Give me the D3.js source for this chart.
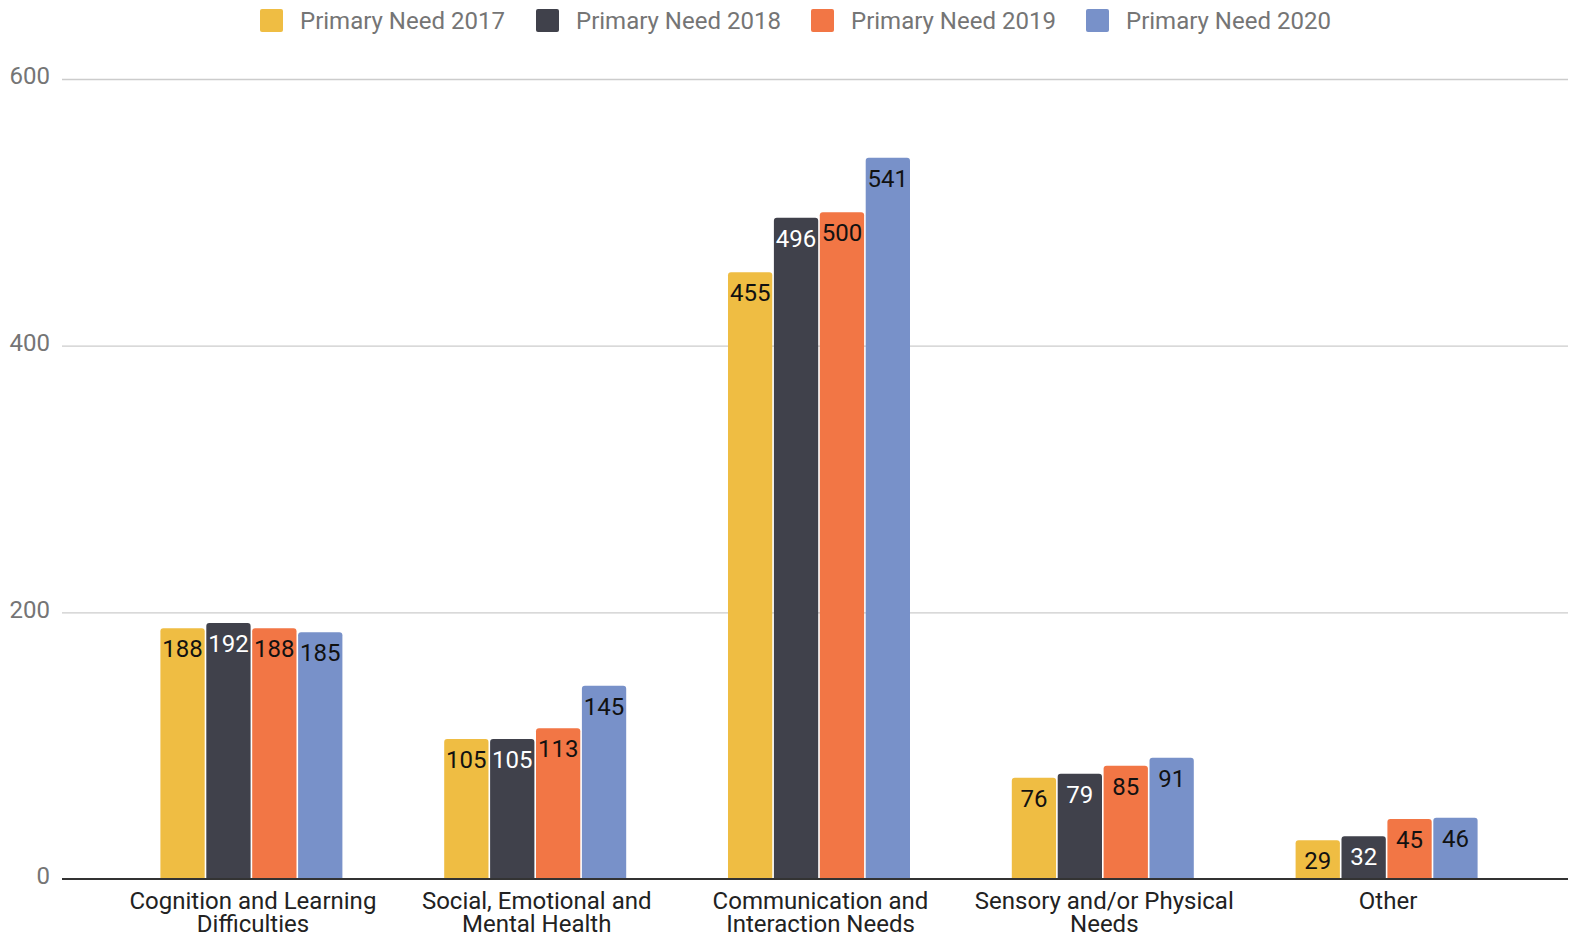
<!DOCTYPE html>
<html><head><meta charset="utf-8">
<script src="https://cdn.jsdelivr.net/npm/d3@7"></script>
<style>body{margin:0;background:#fff;} svg{display:block;font-family:Roboto,"Noto Sans",sans-serif;}</style>
</head><body>
<svg id="c" width="1577" height="946"></svg>
<script>
const categories = [["Cognition and Learning","Difficulties"],["Social, Emotional and","Mental Health"],["Communication and","Interaction Needs"],["Sensory and/or Physical","Needs"],["Other"]];
const seriesNames = ["Primary Need 2017","Primary Need 2018","Primary Need 2019","Primary Need 2020"];
const v2017 = [188,105,455,76,29];
const v2018 = [192,105,496,79,32];
const v2019 = [188,113,500,85,45];
const v2020 = [185,145,541,91,46];
const yTicks = [0,200,400,600];
const colors = ["#EFBD43","#40414B","#F27645","#7891C9"];
const labelColors = ["#111","#fff","#111","#111"];

const values = [v2017,v2018,v2019,v2020];
const FS = 24;
const svg = d3.select("#c");
const y = d3.scaleLinear().domain([0,600]).range([879,79]);
const catIdx = categories.map((d,i)=>i);
const x0 = d3.scaleBand().domain(catIdx).range([109.5,1528.5]).padding(0);
const bw = x0.bandwidth();
const gw = 182;
const x1 = d3.scaleBand().domain(d3.range(4)).range([(bw-gw)/2,(bw+gw)/2]).paddingInner(0.035).paddingOuter(0);

// gridlines
const gAxis = svg.append("g").attr("transform","translate(62,0)")
  .call(d3.axisLeft(y).tickValues(yTicks).tickSize(-1506).tickFormat(d=>d).tickPadding(12));
gAxis.select(".domain").remove();
gAxis.selectAll(".tick line").attr("stroke","#cccccc").attr("stroke-width",1.3);
gAxis.selectAll(".tick text").attr("fill","#757575").attr("font-size",FS).attr("font-family","Roboto").attr("dy","0.2em");
gAxis.selectAll(".tick").filter(d=>d===0).select("line").remove();

// bars
function topRounded(x,yTop,w,h,r){
  r=Math.min(r,h);
  return `M${x},${yTop+h}V${yTop+r}Q${x},${yTop} ${x+r},${yTop}H${x+w-r}Q${x+w},${yTop} ${x+w},${yTop+r}V${yTop+h}Z`;
}
const groups = svg.append("g").selectAll("g").data(catIdx).join("g")
  .attr("transform",d=>`translate(${x0(d)},0)`);
groups.each(function(ci){
  const g = d3.select(this);
  for(let s=0;s<4;s++){
    const val = values[s][ci];
    const bx = x1(s), w = x1.bandwidth();
    g.append("path").attr("d",topRounded(bx,y(val),w,y(0)-y(val),3)).attr("fill",colors[s]);
    g.append("text").attr("x",bx+w/2).attr("y",y(val)+29).attr("text-anchor","middle")
      .attr("font-size",FS).attr("fill",labelColors[s]).text(val);
  }
});

// baseline
svg.append("line").attr("x1",62).attr("x2",1568).attr("y1",y(0)).attr("y2",y(0)).attr("stroke","#333").attr("stroke-width",2);

// x labels
const xl = svg.append("g");
catIdx.forEach(ci=>{
  const cx = x0(ci)+bw/2+1.5;
  const t = xl.append("text").attr("text-anchor","middle").attr("font-size",FS).attr("fill","#222")
    .attr("x",cx).attr("y",909);
  categories[ci].forEach((line,li)=>{
    t.append("tspan").attr("x",cx).attr("dy",li===0?0:23).text(line);
  });
});

// legend
const legX = [260,536,811,1086];
const leg = svg.append("g");
seriesNames.forEach((n,i)=>{
  leg.append("rect").attr("x",legX[i]).attr("y",9).attr("width",23).attr("height",23).attr("rx",2).attr("fill",colors[i]);
  leg.append("text").attr("x",legX[i]+40).attr("y",28.5).attr("font-size",FS).attr("fill","#757575").text(n);
});
</script>
</body></html>
